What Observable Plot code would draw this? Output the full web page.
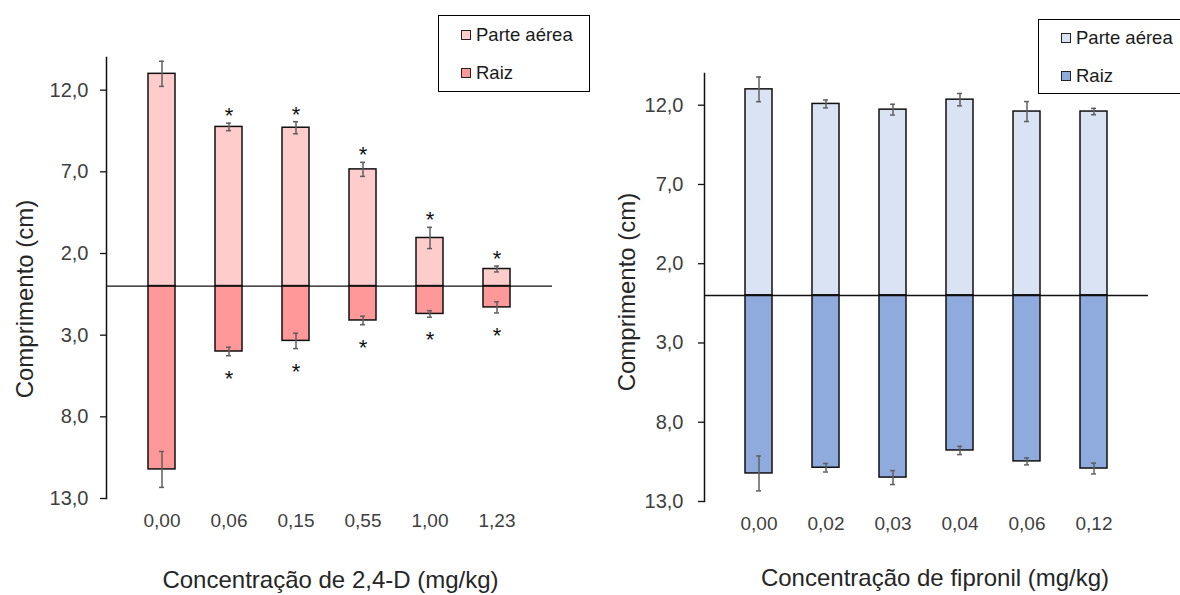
<!DOCTYPE html>
<html>
<head>
<meta charset="utf-8">
<script src="https://cdn.jsdelivr.net/npm/d3@7"></script>
<script src="https://cdn.jsdelivr.net/npm/@observablehq/plot@0.6"></script>
<style>
  html, body { margin: 0; padding: 0; background: #fff; overflow: hidden; }
  #wrap { position: relative; width: 1180px; height: 595px; font-family: Arial, "Liberation Sans", sans-serif; }
  .panel { position: absolute; top: 0; }
  .legend { position: absolute; border: 1.5px solid #000; background: #fff; box-sizing: border-box; }
  .item { position: absolute; display: flex; align-items: center; font-size: 18.5px; color: #1a1a1a; line-height: 1; }
  .sw { width: 10px; height: 10px; border: 1.3px solid #222; box-sizing: border-box; margin-right: 5px; }
</style>
</head>
<body>
<div id="wrap"></div>
<script>
// ---- data: left panel (2,4-D) ----
const concLeft = ["0,00", "0,06", "0,15", "0,55", "1,00", "1,23"];
const aereaLeft = [13.0, 9.75, 9.7, 7.15, 2.95, 1.05];
const aereaLeftErr = [0.77, 0.23, 0.37, 0.43, 0.65, 0.18];
const raizLeft = [11.22, 4.0, 3.35, 2.1, 1.7, 1.3];
const raizLeftErr = [1.1, 0.26, 0.47, 0.26, 0.2, 0.34];
const sigLeft = [false, true, true, true, true, true];

// ---- data: right panel (fipronil) ----
const concRight = ["0,00", "0,02", "0,03", "0,04", "0,06", "0,12"];
const aereaRight = [13.0, 12.08, 11.72, 12.35, 11.6, 11.6];
const aereaRightErr = [0.78, 0.25, 0.34, 0.39, 0.63, 0.2];
const raizRight = [11.23, 10.87, 11.49, 9.78, 10.47, 10.92];
const raizRightErr = [1.1, 0.27, 0.44, 0.26, 0.22, 0.34];
const sigRight = [false, false, false, false, false, false];

const yTicks = [12, 7, 2, -3, -8, -13];
const seriesNames = ["Parte aérea", "Raiz"];
const yTitle = "Comprimento (cm)";

const fmt = d => Math.abs(d).toFixed(1).replace(".", ",");

function panel(cfg) {
  const rows = cfg.conc.map((c, i) => ({
    c, a: cfg.aerea[i], ae: cfg.aereaErr[i], r: -cfg.raiz[i], re: cfg.raizErr[i], sig: cfg.sig[i]
  }));
  const sigRows = rows.filter(d => d.sig);
  const errColor = "#5f5f5f";
  return Plot.plot({
    width: 590, height: 595,
    marginLeft: cfg.ml, marginRight: cfg.mr, marginTop: cfg.mt, marginBottom: cfg.mb,
    style: { fontFamily: "Arial, 'Liberation Sans', sans-serif", background: "transparent" },
    x: { domain: cfg.conc, padding: 0.6, axis: null },
    y: { domain: [-13, 14], axis: null },
    marks: [
      Plot.barY(rows, { x: "c", y1: 0, y2: "a", fill: cfg.colors[0], stroke: "#111", strokeWidth: 1.5 }),
      Plot.barY(rows, { x: "c", y1: 0, y2: "r", fill: cfg.colors[1], stroke: "#111", strokeWidth: 1.5 }),
      Plot.ruleY([0], { stroke: "#111", strokeWidth: 1.4 }),
      // error bars
      Plot.ruleX(rows, { x: "c", y1: d => d.a - d.ae, y2: d => d.a + d.ae, stroke: errColor, strokeWidth: 1.5 }),
      Plot.tickY(rows, { x: "c", y: d => d.a - d.ae, stroke: errColor, strokeWidth: 1.5, insetLeft: 11, insetRight: 11 }),
      Plot.tickY(rows, { x: "c", y: d => d.a + d.ae, stroke: errColor, strokeWidth: 1.5, insetLeft: 11, insetRight: 11 }),
      Plot.ruleX(rows, { x: "c", y1: d => d.r - d.re, y2: d => d.r + d.re, stroke: errColor, strokeWidth: 1.5 }),
      Plot.tickY(rows, { x: "c", y: d => d.r - d.re, stroke: errColor, strokeWidth: 1.5, insetLeft: 11, insetRight: 11 }),
      Plot.tickY(rows, { x: "c", y: d => d.r + d.re, stroke: errColor, strokeWidth: 1.5, insetLeft: 11, insetRight: 11 }),
      // significance stars
      Plot.text(sigRows, { x: "c", y: d => d.a + d.ae, text: () => "*", dy: -7, fontSize: 22, fill: "#111" }),
      Plot.text(sigRows, { x: "c", y: d => d.r - d.re, text: () => "*", dy: 23, fontSize: 22, fill: "#111" }),
      // axes
      Plot.frame({ anchor: "left", stroke: "#111", strokeWidth: 1.5 }),
      Plot.axisY({ ticks: yTicks, tickFormat: fmt, tickSize: 6, tickPadding: cfg.tp, stroke: "#111", strokeWidth: 1.3,
                   fontSize: 20, fill: "#404040", label: null }),
      Plot.axisX({ tickSize: 0, tickPadding: 15, fontSize: 19, fill: "#404040", label: null }),
      Plot.text([yTitle], { frameAnchor: "left", textAnchor: "middle", lineAnchor: "middle", rotate: -90,
                            dx: cfg.ytDx, dy: cfg.ytDy, fontSize: 24, fill: "#262626" }),
      Plot.text([cfg.xTitle], { frameAnchor: "bottom", textAnchor: "middle", lineAnchor: "middle",
                                dx: cfg.xtDx, dy: cfg.xtDy, fontSize: 24, fill: "#262626" })
    ]
  });
}

const wrap = document.getElementById("wrap");

const left = panel({
  conc: concLeft, aerea: aereaLeft, aereaErr: aereaLeftErr, raiz: raizLeft, raizErr: raizLeftErr, sig: sigLeft,
  colors: ["#FFCCCC", "#FF9999"], ml: 106, mr: 38, mt: 57, mb: 97, tp: 12,
  ytDx: -81, ytDy: 21, xTitle: "Concentração de 2,4-D (mg/kg)", xtDx: 1, xtDy: 82
});
left.classList.add("panel");
left.style.left = "0px";
wrap.appendChild(left);

const right = panel({
  conc: concRight, aerea: aereaRight, aereaErr: aereaRightErr, raiz: raizRight, raizErr: raizRightErr, sig: sigRight,
  colors: ["#DAE3F3", "#8FAADC"], ml: 114, mr: 32, mt: 73, mb: 94, tp: 15,
  ytDx: -77, ytDy: 4.5, xTitle: "Concentração de fipronil (mg/kg)", xtDx: 8.5, xtDy: 77
});
right.classList.add("panel");
right.style.left = "590px";
wrap.appendChild(right);

function legend(x, y, w, h, colors, items) {
  const box = document.createElement("div");
  box.className = "legend";
  Object.assign(box.style, { left: x + "px", top: y + "px", width: w + "px", height: h + "px" });
  seriesNames.forEach((name, i) => {
    const it = document.createElement("div");
    it.className = "item";
    Object.assign(it.style, { left: items.x + "px", top: (items.y[i] - 10) + "px", height: "20px" });
    const sw = document.createElement("div");
    sw.className = "sw";
    sw.style.background = colors[i];
    const t = document.createElement("span");
    t.textContent = name;
    it.appendChild(sw);
    it.appendChild(t);
    box.appendChild(it);
  });
  wrap.appendChild(box);
}
legend(438, 15, 152, 77, ["#FFCCCC", "#FF9999"], { x: 22, y: [19, 57] });
legend(1038, 19, 160, 75, ["#DAE3F3", "#8FAADC"], { x: 22, y: [18, 56] });
</script>
</body>
</html>
